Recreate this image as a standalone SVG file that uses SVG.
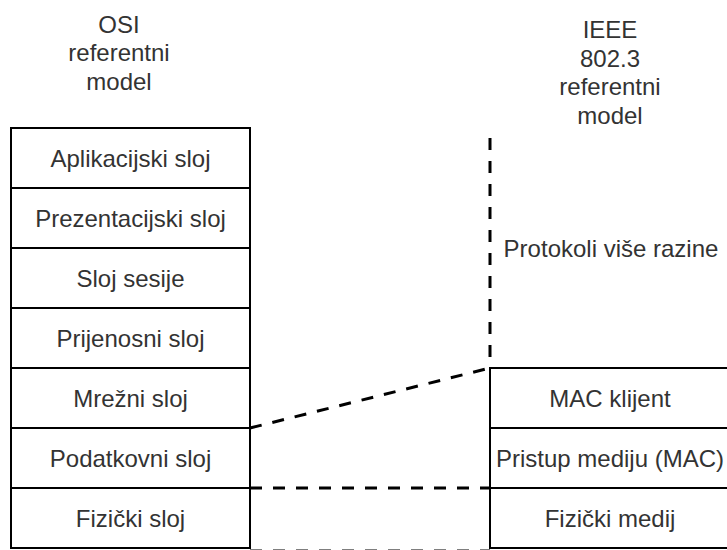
<svg xmlns="http://www.w3.org/2000/svg" width="727" height="550" viewBox="0 0 727 550">
<style>
.box{fill:#fff;stroke:#000;stroke-width:2}
.t{font-family:"Liberation Sans",Arial,sans-serif;font-size:24px;fill:#333;text-anchor:middle}
.dash{fill:none;stroke:#000;stroke-width:3;stroke-dasharray:12 11}
</style>
<rect width="727" height="550" fill="#fff"/>
<g id="osi-title">
<text class="t" x="119" y="32.5">OSI</text>
<text class="t" x="119" y="61">referentni</text>
<text class="t" x="119" y="89.5">model</text>
</g>
<g id="ieee-title">
<text class="t" x="610" y="38">IEEE</text>
<text class="t" x="610" y="66.5">802.3</text>
<text class="t" x="610" y="95">referentni</text>
<text class="t" x="610" y="123.5">model</text>
</g>
<g id="osi-aplikacijski"><rect class="box" x="11" y="128" width="239" height="60"/><text class="t" x="130.5" y="166.5">Aplikacijski sloj</text></g>
<g id="osi-prezentacijski"><rect class="box" x="11" y="188" width="239" height="60"/><text class="t" x="130.5" y="226.5">Prezentacijski sloj</text></g>
<g id="osi-sesija"><rect class="box" x="11" y="248" width="239" height="60"/><text class="t" x="130.5" y="286.5">Sloj sesije</text></g>
<g id="osi-prijenosni"><rect class="box" x="11" y="308" width="239" height="60"/><text class="t" x="130.5" y="346.5">Prijenosni sloj</text></g>
<g id="osi-mrezni"><rect class="box" x="11" y="368" width="239" height="60"/><text class="t" x="130.5" y="406.5">Mrežni sloj</text></g>
<g id="osi-podatkovni"><rect class="box" x="11" y="428" width="239" height="60"/><text class="t" x="130.5" y="466.5">Podatkovni sloj</text></g>
<g id="osi-fizicki"><rect class="box" x="11" y="488" width="239" height="60"/><text class="t" x="130.5" y="526.5">Fizički sloj</text></g>
<g id="ieee-protokoli"><text class="t" x="611" y="257">Protokoli više razine</text></g>
<g id="ieee-mac-klijent"><rect class="box" x="490" y="368" width="240" height="60"/><text class="t" x="610" y="406.5">MAC klijent</text></g>
<g id="ieee-pristup"><rect class="box" x="490" y="428" width="240" height="60"/><text class="t" x="610" y="466.5">Pristup mediju (MAC)</text></g>
<g id="ieee-fizicki-medij"><rect class="box" x="490" y="488" width="240" height="60"/><text class="t" x="610" y="526.5">Fizički medij</text></g>
<g id="connectors">
<line class="dash" x1="490" y1="138" x2="490" y2="368"/>
<line class="dash" x1="250" y1="428" x2="490" y2="368"/>
<line class="dash" x1="250" y1="488" x2="490" y2="488"/>
<line class="dash" x1="250" y1="551" x2="490" y2="551"/>
</g>
</svg>
